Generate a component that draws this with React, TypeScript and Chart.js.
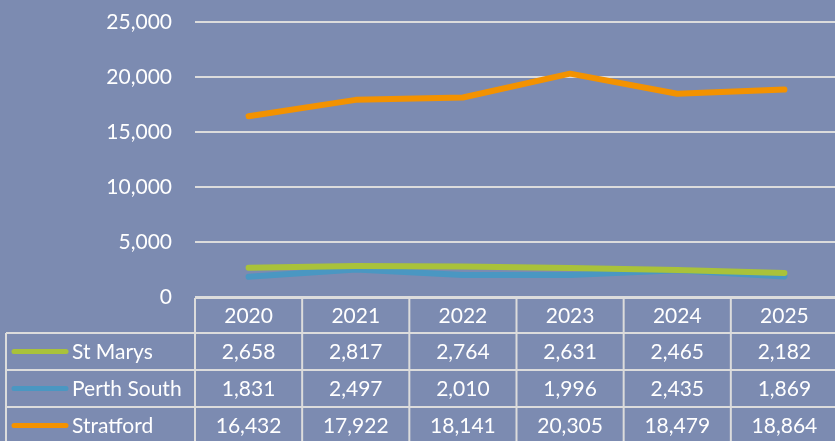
import React, { useEffect, useRef } from "react";
import { Chart, registerables } from "chart.js";

Chart.register(...registerables);

const years = ["2020", "2021", "2022", "2023", "2024", "2025"];
const stMarys = [2658, 2817, 2764, 2631, 2465, 2182];
const perthSouth = [1831, 2497, 2010, 1996, 2435, 1869];
const stratford = [16432, 17922, 18141, 20305, 18479, 18864];
const seriesNames = ["St Marys", "Perth South", "Stratford"];
const seriesColors = ["#a9c23a", "#4a97c2", "#f39200"];
const yMax = 25000;
const yStep = 5000;

const FONT = "Lato, 'Open Sans', sans-serif";
const W = 838;
const H = 441;

const tablePlugin = {
  id: "tablePlugin",
  beforeDraw(chart: any) {
    const ctx = chart.ctx;
    ctx.save();
    ctx.fillStyle = "#7c8bb1";
    ctx.fillRect(0, 0, chart.width, chart.height);
    ctx.restore();
  },
  afterDraw(chart: any) {
    const ctx = chart.ctx;
    const x = chart.scales.x;
    const area = chart.chartArea;
    const top = area.bottom + 1;
    const headerH = 35;
    const rowH = 37;
    const left = area.left;
    const right = area.right;
    const legendLeft = 6;
    const colW = (right - left) / years.length;
    const data = [stMarys, perthSouth, stratford];
    ctx.save();
    ctx.strokeStyle = "#dcdcdc";
    ctx.lineWidth = 2;
    ctx.beginPath();
    ctx.moveTo(left, top);
    ctx.lineTo(right, top);
    for (let r = 0; r <= 3; r++) {
      const y = top + headerH + r * rowH;
      ctx.moveTo(legendLeft, y);
      ctx.lineTo(right, y);
    }
    ctx.moveTo(legendLeft, top + headerH);
    ctx.lineTo(legendLeft, H + 5);
    for (let c = 0; c <= years.length; c++) {
      const xx = left + c * colW;
      ctx.moveTo(xx, top);
      ctx.lineTo(xx, H + 5);
    }
    ctx.stroke();

    ctx.fillStyle = "#ffffff";
    ctx.font = `21px ${FONT}`;
    ctx.textBaseline = "middle";
    ctx.textAlign = "center";
    years.forEach((yr, i) => {
      ctx.fillText(yr, x.getPixelForValue(i), top + headerH / 2 + 1);
    });
    data.forEach((arr, r) => {
      const cy = top + headerH + r * rowH + rowH / 2 + 1;
      ctx.textAlign = "center";
      ctx.fillStyle = "#ffffff";
      arr.forEach((v, i) => {
        ctx.fillText(v.toLocaleString("en-US"), x.getPixelForValue(i), cy);
      });
      ctx.strokeStyle = seriesColors[r];
      ctx.lineWidth = 5;
      ctx.lineCap = "round";
      ctx.beginPath();
      ctx.moveTo(14, cy - 1);
      ctx.lineTo(66, cy - 1);
      ctx.stroke();
      ctx.textAlign = "left";
      ctx.fillText(seriesNames[r], 72, cy);
    });
    ctx.restore();
  },
};

export default function App() {
  const ref = useRef<HTMLCanvasElement>(null);
  useEffect(() => {
    document.body.style.margin = "0";
    document.body.style.overflow = "hidden";
    const chart = new Chart(ref.current as HTMLCanvasElement, {
      type: "line",
      data: {
        labels: years,
        datasets: [stMarys, perthSouth, stratford].map((d, i) => ({
          label: seriesNames[i],
          data: d,
          borderColor: seriesColors[i],
          backgroundColor: seriesColors[i],
          borderWidth: 6,
          pointRadius: 0,
          tension: 0,
          borderCapStyle: "round",
          borderJoinStyle: "round",
        })) as any,
      },
      options: {
        animation: false,
        responsive: false,
        layout: { padding: { top: 22, bottom: 144, left: 0, right: 0 } },
        plugins: { legend: { display: false }, tooltip: { enabled: false } },
        scales: {
          x: { display: false, offset: true },
          y: {
            min: 0,
            max: yMax,
            afterFit: (s: any) => {
              s.width = 195;
            },
            ticks: {
              stepSize: yStep,
              color: "#ffffff",
              font: { family: FONT, size: 21 },
              padding: 0,
              callback: (v: any) => Number(v).toLocaleString("en-US"),
            },
            grid: {
              color: "#dcdcdc",
              lineWidth: 2,
              drawTicks: true,
              tickLength: 23,
              tickColor: "rgba(0,0,0,0)",
            },
            border: { display: false },
          },
        },
      },
      plugins: [tablePlugin],
    });
    return () => chart.destroy();
  }, []);
  return (
    <div style={{ position: "fixed", left: 0, top: 0, width: W, height: H, overflow: "hidden" }}>
      <canvas ref={ref} width={W} height={H} style={{ width: W, height: H, display: "block" }} />
    </div>
  );
}
